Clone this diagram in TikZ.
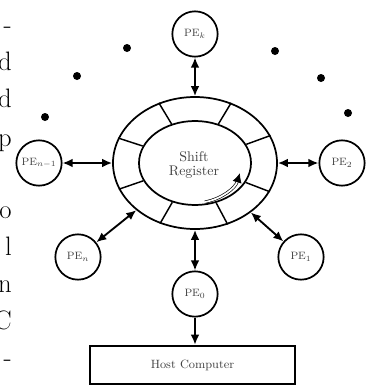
\documentclass[tikz,border=0pt]{standalone}
\usetikzlibrary{arrows.meta,shapes.geometric}
\begin{document}
\begin{tikzpicture}[x=0.75pt,y=-0.75pt,
  pe/.style={circle,draw,line width=1.3pt,minimum size=34pt,inner sep=0pt,font=\fontsize{8}{9}\selectfont,text=black!75},
  link/.style={line width=1.4pt,{Latex[length=7.5pt,width=6.5pt]}-{Latex[length=7.5pt,width=6.5pt]}},
  onelink/.style={line width=1.4pt,-{Latex[length=7.5pt,width=6.5pt]}},
  dotmark/.style={circle,fill,inner sep=0pt,minimum size=6pt},
  frag/.style={anchor=base east,inner sep=0pt,font=\fontsize{20}{24}\selectfont},
  ringstyle/.style={ellipse,draw,line width=1.3pt,inner sep=0pt}]
\useasboundingbox (0,0) rectangle (366,386);
% page text fragments at the left edge
\node[frag] (f0) at (12,33) {-};
\node[frag] (f1) at (12,70) {d};
\node[frag] (f2) at (12,107) {d};
\node[frag] (f3) at (12,146) {p};
\node[frag] (f5) at (12,218) {o};
\node[frag] (f6) at (12,255) {l};
\node[frag] (f7) at (12,292) {n};
\node[frag] (f8) at (12,329) {C};
\node[frag] (f9) at (12,366) {-};
% shift register ring
\node[ringstyle,minimum width=123pt,minimum height=99pt] (ring) at (195,163) {};
\node[ringstyle,minimum width=84pt,minimum height=63pt] (core) at (195,163) {};
\foreach \a in {20,59,121,162,199,240,298,339}
  \draw[line width=1.1pt] (core.\a) -- (ring.\a);
\node[align=center,font=\fontsize{10.5}{11}\selectfont,text=black!75] (srlabel) at (194,165) {Shift\\Register};
\coordinate (swirl) at (205,202);
\draw[line width=0.5pt,double distance=1.3pt,-{Latex[length=7pt,width=7pt]}] (swirl) arc[start angle=78,end angle=15,x radius=46,y radius=40];
% processing elements
\node[pe] (pet) at (195,34) {PE$_k$};
\node[pe] (pel) at (39,163) {PE$_{n-1}$};
\node[pe] (per) at (342,163) {PE$_2$};
\node[pe] (pebl) at (78,257) {PE$_n$};
\node[pe] (pebr) at (301,257) {PE$_1$};
\node[pe] (peb) at (195,294) {PE$_0$};
% dots
\node[dotmark] (d1) at (127,48) {};
\node[dotmark] (d2) at (77,76) {};
\node[dotmark] (d3) at (45,117) {};
\node[dotmark] (d4) at (275,51) {};
\node[dotmark] (d5) at (321,78) {};
\node[dotmark] (d6) at (348,113) {};
% host
\node[draw,line width=1.4pt,minimum width=153.75pt,minimum height=29pt,inner sep=0pt,font=\fontsize{9}{10}\selectfont,text=black!75] (host) at (192.5,365) {Host Computer};
% links
\draw[link] (pet) -- (ring);
\draw[link] (pel) -- (ring);
\draw[link] (per) -- (ring);
\draw[link] (pebl) -- (ring);
\draw[link] (pebr) -- (ring);
\draw[link] (peb) -- (ring);
\draw[onelink] (peb.south) -- (peb.south |- host.north);
\end{tikzpicture}
\end{document}
